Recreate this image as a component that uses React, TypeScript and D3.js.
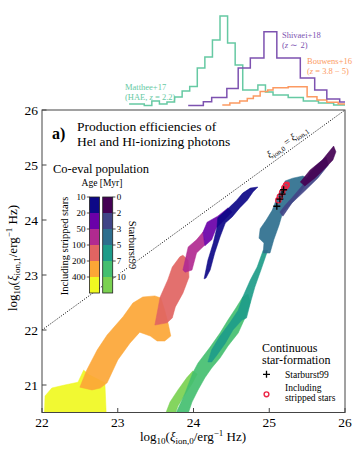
import React from 'react';
import * as d3 from 'd3';

const W = 357;
const H = 453;

// axes ticks
const xTicks = [22, 23, 24, 25, 26];
const yTicks = [21, 22, 23, 24, 25, 26];

// colorbar legend
const strippedAges = ['10', '20', '50', '100', '200', '400'];
const sb99Ages = ['0', '2', '3', '5', '7', '10'];

// top histograms (counts in arbitrary units)
const mattheeStart = 23.15;
const mattheeBin = 0.1;
const mattheeCounts = [6, 6, 4.5, 9, 6, 8, 13, 19, 23.5, 42, 53, 70, 94, 67, 45, 20, 20, 25, 18, 15, 15, 12.5, 12.5, 9, 9, 7, 7, 5, 5];
const shivaeiEdges = [23.93, 24.13, 24.24, 24.44, 24.59, 24.75, 24.93, 25.1, 25.41, 25.6, 25.76, 25.93, 26.0];
const shivaeiCounts = [4.5, 8.3, 12.5, 21.5, 42, 52, 78.3, 52, 32, 20, 11, 8];
const bouwensEdges = [24.38, 24.48, 24.61, 24.71, 24.79, 24.88, 24.98, 25.05, 25.25, 25.5, 25.63, 25.76, 25.91, 26.0];
const bouwensCounts = [5, 7, 9, 11.5, 14, 18.5, 20, 22.3, 23.3, 13.3, 10, 7.7, 6];

// co-eval population including stripped stars (age bins 400 -> 10 Myr)
const stripped400: [number, number][] = [[22.03, 20.4], [22.04, 20.8], [22.13, 20.945], [22.3, 21.0], [22.475, 21.05], [22.55, 21.27], [22.63, 21.18], [22.83, 21.04], [22.85, 20.4]];
const stripped200: [number, number][] = [[22.5, 20.96], [22.59, 21.27], [22.73, 21.64], [22.86, 21.91], [23.07, 22.24], [23.2, 22.49], [23.33, 22.6], [23.49, 22.62], [23.57, 22.58], [23.62, 22.36], [23.66, 22.15], [23.7, 21.89], [23.62, 21.8], [23.52, 21.8], [23.43, 21.89], [23.29, 21.96], [23.16, 21.76], [23.0, 21.455], [22.86, 21.04], [22.77, 20.945], [22.66, 20.91]];
const stripped100: [number, number][] = [[23.49, 22.09], [23.56, 22.6], [23.66, 22.91], [23.72, 23.145], [23.82, 23.33], [23.86, 23.36], [23.93, 23.27], [23.94, 22.96], [23.86, 22.67], [23.76, 22.42], [23.72, 22.22], [23.65, 22.13]];
const stripped50: [number, number][] = [[23.86, 23.09], [23.93, 23.51], [24.04, 23.64], [24.125, 23.78], [24.15, 23.545], [24.04, 23.4], [23.98, 23.09], [23.89, 23.05]];
const stripped20: [number, number][] = [[24.125, 23.78], [24.18, 23.96], [24.32, 24.07], [24.455, 24.22], [24.51, 24.145], [24.38, 23.96], [24.3, 23.855], [24.24, 23.64], [24.15, 23.53]];
const stripped10: [number, number][] = [[24.14, 22.93], [24.19, 23.27], [24.26, 23.58], [24.31, 23.87], [24.32, 24.04], [24.48, 24.24], [24.57, 24.36], [24.65, 24.49], [24.75, 24.58], [24.85, 24.6], [24.785, 24.51], [24.71, 24.36], [24.61, 24.22], [24.51, 24.055], [24.42, 23.945], [24.35, 23.69], [24.28, 23.4], [24.22, 23.09], [24.165, 22.945]];

// co-eval population, Starburst99 (age bins 10 -> 0 Myr)
const sb10: [number, number][] = [[23.61, 20.4], [23.69, 20.69], [23.795, 20.91], [23.91, 21.13], [23.99, 21.255], [24.05, 21.2], [23.98, 21.02], [23.875, 20.8], [23.795, 20.62], [23.74, 20.4]];
const sb7: [number, number][] = [[23.74, 20.4], [23.89, 20.855], [23.99, 21.22], [24.06, 21.4], [24.22, 21.69], [24.35, 21.945], [24.455, 22.18], [24.56, 22.4], [24.65, 22.6], [24.72, 22.655], [24.75, 22.51], [24.68, 22.22], [24.59, 21.945], [24.455, 21.71], [24.35, 21.49], [24.24, 21.31], [24.15, 21.13], [24.06, 20.91], [23.98, 20.69], [23.91, 20.4]];
const sb5: [number, number][] = [[24.92, 23.45], [24.84, 23.145], [24.75, 22.91], [24.65, 22.6], [24.59, 22.36], [24.48, 22.13], [24.35, 21.89], [24.24, 21.64], [24.19, 21.42], [24.24, 21.42], [24.31, 21.545], [24.42, 21.76], [24.52, 22.0], [24.64, 22.18], [24.7, 22.22], [24.75, 22.49], [24.81, 22.78], [24.89, 23.09], [24.98, 23.45]];
const sb3: [number, number][] = [[25.31, 24.76], [25.21, 24.71], [25.155, 24.545], [25.09, 24.36], [25.04, 24.18], [24.96, 24.0], [24.88, 23.84], [24.865, 23.67], [24.93, 23.58], [24.92, 23.4], [25.01, 23.4], [25.06, 23.64], [25.13, 23.91], [25.18, 24.145], [25.27, 24.27], [25.38, 24.44], [25.47, 24.62], [25.54, 24.73], [25.445, 24.8]];
const sb2: [number, number][] = [[25.14, 24.145], [25.21, 24.27], [25.31, 24.42], [25.445, 24.64], [25.54, 24.87], [25.63, 25.0], [25.75, 25.145], [25.78, 25.0], [25.64, 24.76], [25.47, 24.53], [25.3, 24.31], [25.18, 24.07]];
const sb0: [number, number][] = [[25.85, 25.345], [25.88, 25.24], [25.84, 25.09], [25.74, 24.945], [25.6, 24.76], [25.47, 24.62], [25.41, 24.69], [25.54, 24.91], [25.7, 25.09]];

// continuous star formation
const csfStarburst: [number, number][] = [[25.1, 24.25], [25.14, 24.38], [25.17, 24.47], [25.19, 24.55]];
const csfStripped: [number, number][] = [[25.12, 24.36], [25.14, 24.42], [25.17, 24.5], [25.2, 24.58], [25.22, 24.62], [25.23, 24.64]];

const FONT = '"Liberation Serif", "Times New Roman", Times, serif';
const C_MATTHEE = '#66c9a3';
const C_SHIVAEI = '#7d52b0';
const C_BOUWENS = '#fc9a62';
const C_RED = '#ec2545';

export default function App() {
  const x = d3.scaleLinear().domain([22, 26]).range([42, 345]);
  const y = d3.scaleLinear().domain([20.5, 26]).range([412.5, 110]);
  const hy = d3.scaleLinear().domain([0, 94]).range([110, 16]);

  const plasmaT = [0, 0.2, 0.4, 0.6, 0.8, 1.0];
  const viridisT = [0, 0.2, 0.36, 0.55, 0.7, 0.8];
  const plasmaCols = plasmaT.map((t) => d3.interpolatePlasma(t));
  const viridisCols = viridisT.map((t) => d3.interpolateViridis(t));

  const poly = d3.line<[number, number]>().x((d) => x(d[0])).y((d) => y(d[1])).curve(d3.curveLinearClosed);

  const stepPath = (edges: number[], counts: number[]) => {
    const pts: [number, number][] = counts.map((c, i) => [edges[i], c]);
    pts.push([edges[edges.length - 1], counts[counts.length - 1]]);
    return d3.line<[number, number]>().x((d) => x(Math.min(d[0], 26))).y((d) => hy(d[1])).curve(d3.curveStepAfter)(pts) || '';
  };
  const mattheeEdges = d3.range(mattheeCounts.length + 1).map((i) => mattheeStart + i * mattheeBin);

  const strippedPolys = [stripped400, stripped200, stripped100, stripped50, stripped20, stripped10];
  const strippedColIdx = [5, 4, 3, 2, 1, 0];
  const sbPolys = [sb10, sb7, sb5, sb3, sb2, sb0];
  const sbColIdx = [5, 4, 3, 2, 1, 0];

  const slopeDeg = (Math.atan2(y(22) - y(26), x(26) - x(22)) * 180) / Math.PI;

  const cbTop = 197;
  const segH = 16;
  const cb1x = 89.5;
  const cb2x = 102.7;
  const cbW = 10;

  const halo = { stroke: '#fff', strokeWidth: 3, paintOrder: 'stroke' as const, strokeLinejoin: 'round' as const };

  return (
    <svg width={W} height={H} style={{ position: 'absolute', left: 0, top: 0, background: '#fff' }} fontFamily={FONT}>
      <defs>
        <clipPath id="plotclip">
          <rect x={42} y={110} width={303} height={302.5} />
        </clipPath>
      </defs>
      <rect x={0} y={0} width={W} height={H} fill="#fff" />

      {/* top histograms */}
      <g fill="none" strokeWidth={1.5}>
        <path d={stepPath(mattheeEdges, mattheeCounts)} stroke={C_MATTHEE} />
        <path d={stepPath(bouwensEdges, bouwensCounts)} stroke={C_BOUWENS} />
        <path d={stepPath(shivaeiEdges, shivaeiCounts)} stroke={C_SHIVAEI} />
      </g>
      <g fontSize={8.5}>
        <text x={125} y={90} fill={C_MATTHEE}>Matthee+17</text>
        <text x={125} y={99.5} fill={C_MATTHEE}>(HAE, <tspan fontStyle="italic">z</tspan> = 2.2)</text>
        <text x={282} y={38} fill={C_SHIVAEI}>Shivaei+18</text>
        <text x={282} y={47.5} fill={C_SHIVAEI}>(<tspan fontStyle="italic">z</tspan> ∼ 2)</text>
        <text x={307} y={64} fill={C_BOUWENS}>Bouwens+16</text>
        <text x={307} y={73.5} fill={C_BOUWENS}>(<tspan fontStyle="italic">z</tspan> = 3.8 − 5)</text>
      </g>

      {/* main plot shapes */}
      <g clipPath="url(#plotclip)">
        {strippedPolys.map((p, i) => (
          <path key={'s' + i} d={poly(p) || ''} fill={plasmaCols[strippedColIdx[i]]} stroke={plasmaCols[strippedColIdx[i]]} strokeWidth={1} strokeOpacity={0.5} fillOpacity={0.92} />
        ))}
        {sbPolys.map((p, i) => (
          <path key={'b' + i} d={poly(p) || ''} fill={viridisCols[sbColIdx[i]]} stroke={viridisCols[sbColIdx[i]]} strokeWidth={1} strokeOpacity={0.5} fillOpacity={0.92} />
        ))}
        <line x1={x(22)} y1={y(22)} x2={x(26)} y2={y(26)} stroke="#000" strokeWidth={1} strokeDasharray="1 1.6" />
        {csfStripped.map((d, i) => (
          <circle key={'c' + i} cx={x(d[0])} cy={y(d[1])} r={2.6} fill="none" stroke={C_RED} strokeWidth={1.4} />
        ))}
        {csfStarburst.map((d, i) => (
          <path key={'p' + i} d={`M${x(d[0]) - 3.5},${y(d[1])}h7M${x(d[0])},${y(d[1]) - 3.5}v7`} stroke="#000" strokeWidth={1.3} />
        ))}
      </g>

      {/* diagonal label */}
      <text transform={`translate(${x(25.3)},${y(25.3)}) rotate(${-slopeDeg})`} y={-5} textAnchor="middle" fontSize={10}>
        <tspan fontStyle="italic">ξ</tspan><tspan fontSize={7} dy={2.5}>ion,0</tspan><tspan dy={-2.5}> = </tspan><tspan fontStyle="italic">ξ</tspan><tspan fontSize={7} dy={2.5}>ion,1</tspan>
      </text>

      {/* frame */}
      <rect x={42} y={110} width={303} height={302.5} fill="none" stroke="#444" strokeWidth={1} />
      {xTicks.map((t) => (
        <g key={'xt' + t}>
          <line x1={x(t)} x2={x(t)} y1={412.5} y2={408} stroke="#444" />
          <text x={x(t)} y={427} textAnchor="middle" fontSize={13.5}>{t}</text>
        </g>
      ))}
      {yTicks.map((t) => (
        <g key={'yt' + t}>
          <line x1={42} x2={46.5} y1={y(t)} y2={y(t)} stroke="#444" />
          <text x={38} y={y(t) + 4.5} textAnchor="end" fontSize={13.5}>{t}</text>
        </g>
      ))}

      {/* axis labels */}
      <text x={193} y={441} textAnchor="middle" fontSize={13}>
        log<tspan fontSize={9} dy={3}>10</tspan><tspan dy={-3}>(</tspan><tspan fontStyle="italic">ξ</tspan><tspan fontSize={9} dy={3}>ion,0</tspan><tspan dy={-3}>/erg</tspan><tspan fontSize={9} dy={-5}>−1</tspan><tspan dy={5}> Hz)</tspan>
      </text>
      <text transform="translate(17,258) rotate(-90)" textAnchor="middle" fontSize={13}>
        log<tspan fontSize={9} dy={3}>10</tspan><tspan dy={-3}>(</tspan><tspan fontStyle="italic">ξ</tspan><tspan fontSize={9} dy={3}>ion,1</tspan><tspan dy={-3}>/erg</tspan><tspan fontSize={9} dy={-5}>−1</tspan><tspan dy={5}> Hz)</tspan>
      </text>

      {/* title */}
      <text x={52} y={139} fontSize={16} fontWeight="bold">a)</text>
      <text x={77} y={130.5} fontSize={13.5}>Production efficiencies of</text>
      <text x={77} y={145.5} fontSize={13.5}>He<tspan fontSize={10}>I</tspan> and H<tspan fontSize={10}>I</tspan>-ionizing photons</text>

      {/* colorbar legend */}
      <text x={101} y={173} textAnchor="middle" fontSize={12.5}>Co-eval population</text>
      <text x={102} y={185.5} textAnchor="middle" fontSize={9.5}>Age [Myr]</text>
      {strippedAges.map((a, i) => (
        <g key={'cb1' + i}>
          <rect x={cb1x} y={cbTop + i * segH} width={cbW} height={segH} fill={plasmaCols[i]} />
          <line x1={cb1x - 3} x2={cb1x} y1={cbTop + i * segH} y2={cbTop + i * segH} stroke="#222" strokeWidth={0.8} />
          <text x={cb1x - 4} y={cbTop + i * segH + 3} textAnchor="end" fontSize={9} {...halo}>{a}</text>
        </g>
      ))}
      <rect x={cb1x} y={cbTop} width={cbW} height={segH * 6} fill="none" stroke="#222" strokeWidth={0.8} />
      {sb99Ages.map((a, i) => (
        <g key={'cb2' + i}>
          <rect x={cb2x} y={cbTop + i * segH} width={cbW} height={segH} fill={viridisCols[i]} />
          <line x1={cb2x + cbW} x2={cb2x + cbW + 3} y1={cbTop + i * segH} y2={cbTop + i * segH} stroke="#222" strokeWidth={0.8} />
          <text x={cb2x + cbW + 4} y={cbTop + i * segH + 3} fontSize={9} {...halo}>{a}</text>
        </g>
      ))}
      <rect x={cb2x} y={cbTop} width={cbW} height={segH * 6} fill="none" stroke="#222" strokeWidth={0.8} />
      <text transform="translate(68,246) rotate(-90)" textAnchor="middle" fontSize={10.5} {...halo}>Including stripped stars</text>
      <text transform="translate(129,245) rotate(90)" textAnchor="middle" fontSize={10.5} {...halo}>Starburst99</text>

      {/* continuous SF legend */}
      <text x={262} y={351.5} fontSize={12}>Continuous</text>
      <text x={262} y={364} fontSize={12}>star-formation</text>
      <path d="M263,374.3h7M266.5,370.8v7" stroke="#000" strokeWidth={1.3} />
      <text x={285} y={377.5} fontSize={9.5}>Starburst99</text>
      <circle cx={266.5} cy={394.3} r={2.4} fill="none" stroke={C_RED} strokeWidth={1.4} />
      <text x={285} y={391} fontSize={9.5}>Including</text>
      <text x={285} y={401} fontSize={9.5}>stripped stars</text>
    </svg>
  );
}
